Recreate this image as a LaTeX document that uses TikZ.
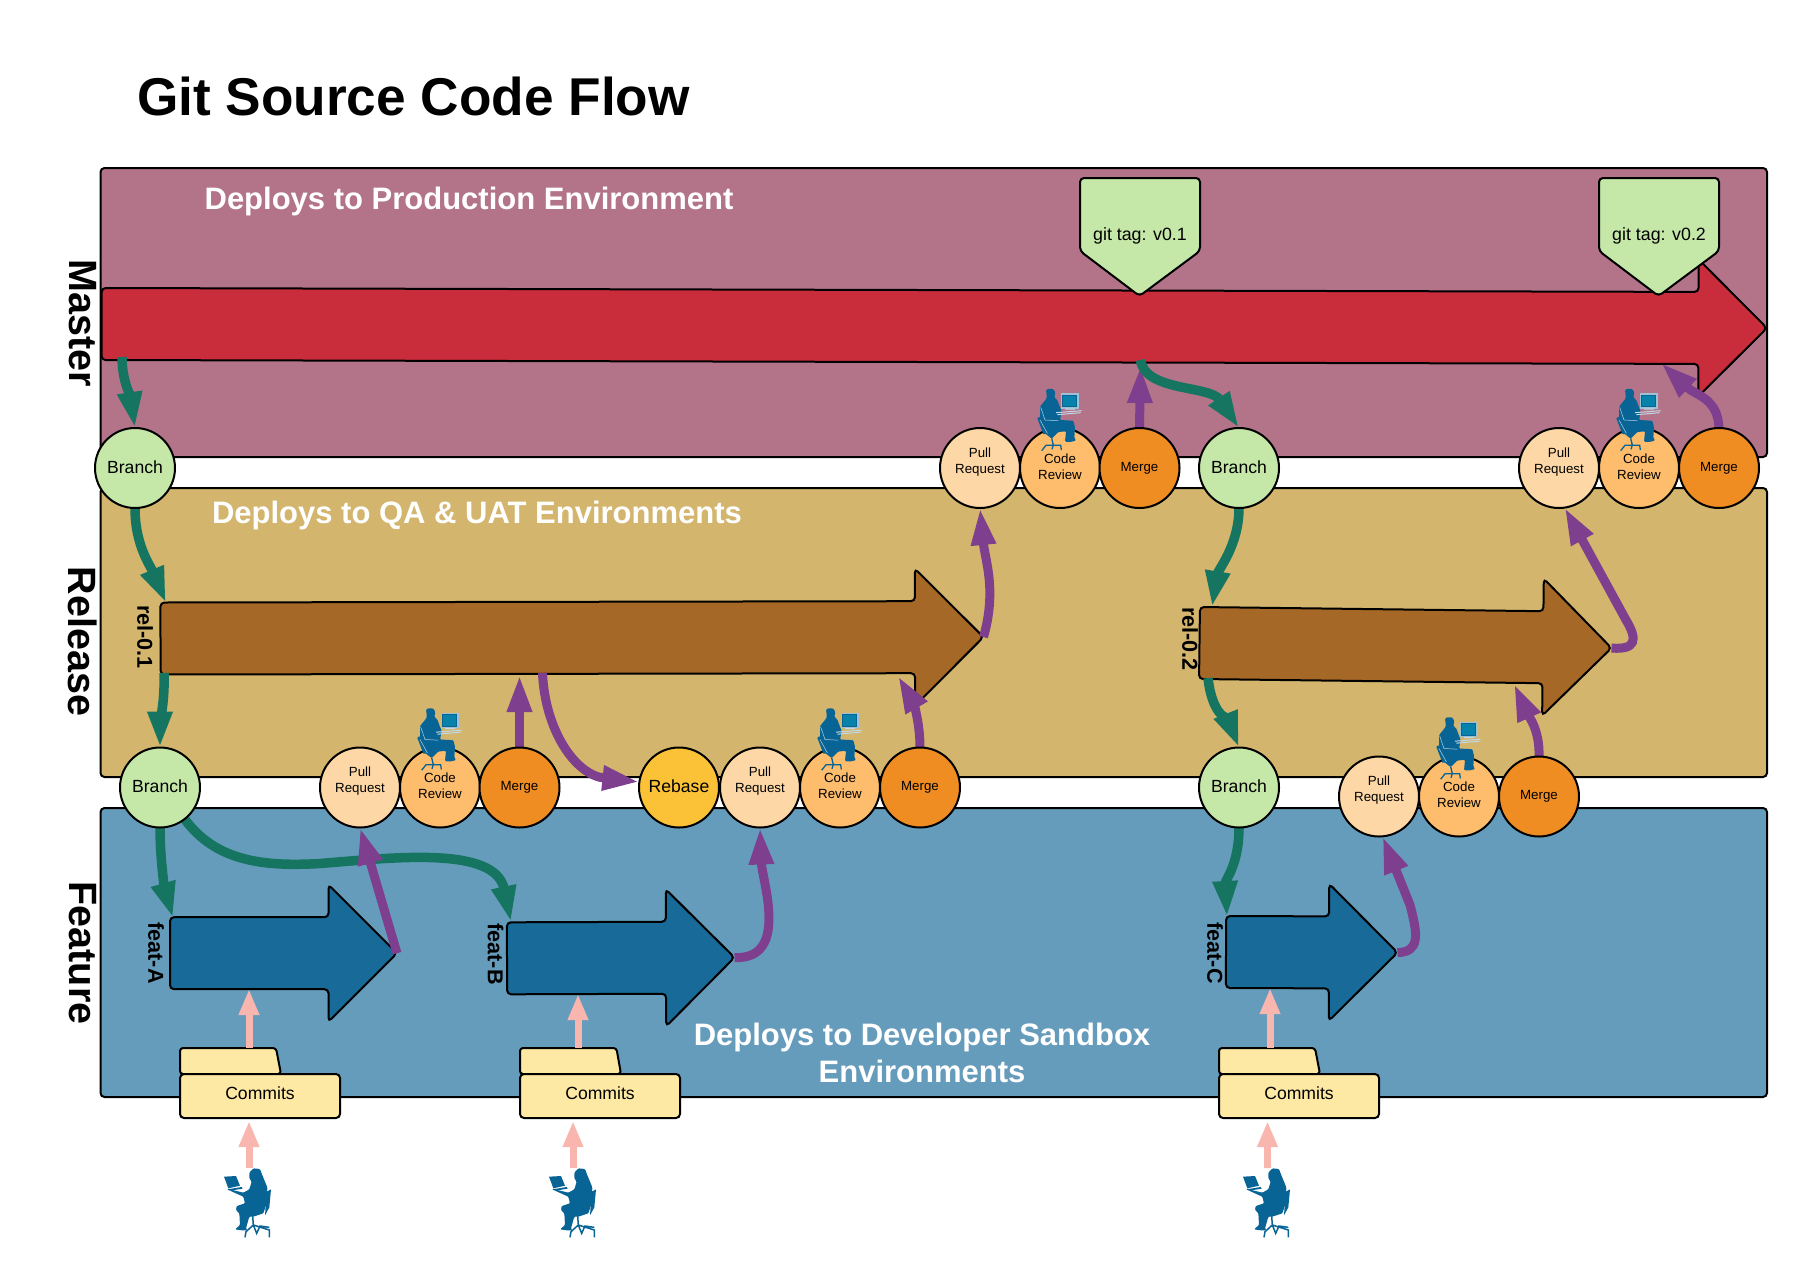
\documentclass[tikz,border=0pt]{standalone}
\usepackage{fontspec}
\setmainfont{Liberation Sans}
\usetikzlibrary{arrows.meta,shapes.arrows}
\definecolor{mastc}{HTML}{B3748A}
\definecolor{relbc}{HTML}{D3B56D}
\definecolor{feabc}{HTML}{669CBB}
\definecolor{redc}{HTML}{C92C3A}
\definecolor{brownc}{HTML}{A56826}
\definecolor{bluec}{HTML}{186A98}
\definecolor{branchc}{HTML}{C5E8A9}
\definecolor{prc}{HTML}{FDD8A6}
\definecolor{crc}{HTML}{FDBD6C}
\definecolor{mergec}{HTML}{EF8C22}
\definecolor{rebasec}{HTML}{FBC238}
\definecolor{folderc}{HTML}{FDE8A4}
\definecolor{purplec}{HTML}{7E3F8E}
\definecolor{greenc}{HTML}{167560}
\definecolor{pinkc}{HTML}{F8B6AE}
\definecolor{personc}{HTML}{096496}
\pgfdeclarelayer{front}
\pgfsetlayers{main,front}
\newcommand{\twolines}[2]{\begin{tabular}{@{}c@{}}#1\\#2\end{tabular}}
\newcommand{\raisedlines}[2]{\raisebox{2.4pt}[0pt][0pt]{\twolines{#1}{#2}}}
\tikzset{
  band/.style={draw=black,line width=2pt,rounded corners=4pt,inner sep=0pt,outer sep=0pt,anchor=north west,minimum width=1666.5pt},
  flow/.style={single arrow,single arrow head extend=32.5pt,single arrow tip angle=90,single arrow head indent=0pt,
    inner xsep=0pt,inner ysep=35pt,outer sep=0pt,anchor=tail,draw=black,line width=2pt,rounded corners=4pt},
  stage/.style={circle,draw=black,line width=2pt,minimum size=80pt,inner sep=0pt,outer sep=0pt,
    font=\fontsize{13.3}{16}\selectfont},
  bigstage/.style={stage,font=\fontsize{17.6}{20}\selectfont,text height=10.3pt,text depth=0pt},
  branchst/.style={bigstage,fill=branchc},
  prst/.style={stage,fill=prc},
  crst/.style={stage,fill=crc},
  mergest/.style={stage,fill=mergec},
  rebasest/.style={bigstage,fill=rebasec},
  tagst/.style={draw=black,line width=2pt,fill=branchc,rounded corners=4pt},
  tagtext/.style={font=\fontsize{17.8}{20}\selectfont,inner sep=0pt},
  foldbody/.style={draw=black,line width=2pt,fill=folderc,rounded corners=4pt,minimum width=160pt,minimum height=44pt,
    inner sep=0pt,outer sep=0pt,font=\fontsize{17.6}{20}\selectfont,text height=12.7pt,text depth=6pt},
  foldtab/.style={draw=black,line width=2pt,fill=folderc,rounded corners=3pt},
  lane/.style={font=\bfseries\fontsize{39.5}{44}\selectfont,rotate=-90,inner sep=0pt},
  vlabel/.style={font=\bfseries\fontsize{21.6}{24}\selectfont,rotate=-90,inner sep=0pt},
  deploy/.style={font=\bfseries\fontsize{31}{37}\selectfont,text=white,inner sep=0pt,anchor=base},
  gitflow/.style={draw=greenc,line width=9.5pt,-{Triangle[length=36pt,width=23pt]}},
  prflow/.style={draw=purplec,line width=9pt,-{Triangle[length=37pt,width=23pt]}},
  commitflow/.style={draw=pinkc,line width=7pt,-{Triangle[length=26pt,width=19pt]}},
  reviewer/.pic={
    \begin{scope}[x=.3333pt,y=-.3333pt,shift={(-120,-294)}]
      \fill[personc,rounded corners=1pt] (78,60)--(85,56)--(100,57)--(106,68)--(103,82)--(112,90)--(125,125)--(120,150)
        --(160,152)--(165,172)--(163,203)--(168,212)--(150,216)--(135,215)--(138,184)--(115,186)--(95,206)--(75,190)--(60,150)--(60,110)--(80,85)--(80,75)--cycle;
      \fill[personc] (52,145)--(58,140)--(78,192)--(70,192)--cycle;
      \draw[personc,line width=1.3pt] (95,205)--(100,225) (65,242)--(78,226)--(122,226)--(124,240) (100,225)--(96,238);
      \draw[white!70!personc,line width=.5pt] (62,112)--(75,150)--(115,152) (60,150)--(82,190);
      \draw[white!60!personc,fill=personc!80!cyan,line width=1.4pt] (124,72) rectangle (174,114);
      \draw[personc,line width=.8pt] (128,76) rectangle (170,110);
      \draw[white!75!personc,line width=1pt] (108,128)--(185,122) (112,134)--(182,128) (135,117)--(165,117);
    \end{scope}
  },
  typist/.pic={
    \begin{scope}[x=.3333pt,y=-.3333pt,shift={(-120,-60)}]
      \fill[personc,rounded corners=1pt] (118,68)--(130,55)--(150,57)--(158,78)--(172,112)--(170,160)--(160,190)--(130,200)
        --(118,200)--(108,235)--(112,241)--(95,241)--(75,238)--(90,225)--(88,190)--(78,180)--(80,168)--(105,160)--(100,140)
        --(60,122)--(60,118)--(100,128)--(118,118)--(125,95)--(118,85)--cycle;
      \fill[personc] (42,80)--(78,78)--(90,107)--(55,115)--cycle (52,118)--(95,111)--(98,116)--(60,122)--cycle;
      \fill[personc] (170,125)--(183,118)--(178,172)--(165,196)--cycle;
      \draw[personc,line width=1.5pt] (128,198)--(130,225) (105,262)--(108,245)--(130,225)--(178,240)--(178,262) (130,225)--(140,250)--(150,228)--(178,232);
    \end{scope}
  }
}
\begin{document}
\begin{tikzpicture}[x=1pt,y=-1pt]
\useasboundingbox (0,0) rectangle (1810,1278);

% title and swim lanes
\node[font=\bfseries\fontsize{53.2}{60}\selectfont,inner sep=0pt,anchor=base] (title) at (413.5,115) {Git Source Code Flow};
\node[band,fill=mastc,minimum height=289pt] (master) at (100.5,168) {};
\node[band,fill=relbc,minimum height=289pt] (release) at (100.5,488) {};
\node[band,fill=feabc,minimum height=289pt] (feature) at (100.5,808) {};
\node[lane] (lmaster) at (82.5,323) {Master};
\node[lane] (lrelease) at (82.5,641.5) {Release};
\node[lane] (lfeature) at (82.5,953) {Feature};
\node[deploy] (dprod) at (469,209) {Deploys to Production Environment};
\node[deploy] (dqa) at (477,523) {Deploys to QA \& UAT Environments};
\node[deploy,align=center] (ddev) at (922,1082) {Deploys to Developer Sandbox\\Environments};

% branches
\node[flow,fill=redc,minimum height=1665.4pt,rotate=-0.14] (red) at (101.6,324) {};
\node[flow,fill=brownc,minimum height=823pt,rotate=0.1] (relA) at (160.5,638.5) {};
\node[flow,fill=brownc,minimum height=412pt,rotate=-0.7] (relB) at (1199.5,643) {};
\node[flow,fill=bluec,minimum height=227pt] (featA) at (170,953.2) {};
\node[flow,fill=bluec,minimum height=227.5pt,rotate=0.2] (featB) at (507,958.3) {};
\node[flow,fill=bluec,minimum height=171.5pt,rotate=-0.2] (featC) at (1226,952) {};
\node[vlabel] (lrelA) at (145,637) {rel-0.1};
\node[vlabel] (lrelB) at (1190,639) {rel-0.2};
\node[vlabel] (lfeatA) at (156,953) {feat-A};
\node[vlabel] (lfeatB) at (495.5,954) {feat-B};
\node[vlabel] (lfeatC) at (1215,953) {feat-C};

% git tags
\draw[tagst] (1080,178)--(1200,178)--(1200,251)--(1139.5,296)--(1080,251)--cycle;
\node[tagtext] (tagA) at (1140,236) {git tag: v0.1};
\draw[tagst] (1599,178)--(1719,178)--(1719,251)--(1658.5,296)--(1599,251)--cycle;
\node[tagtext] (tagB) at (1659,236) {git tag: v0.2};

% commit folders
\draw[foldtab] (180,1074)--(180,1048)--(276,1048)--(281,1074)--cycle;
\node[foldbody] (commitsA) at (260,1096) {Commits};
\draw[foldtab] (520,1074)--(520,1048)--(616.4,1048)--(621,1074)--cycle;
\node[foldbody] (commitsB) at (600,1096) {Commits};
\draw[foldtab] (1219,1074)--(1219,1048)--(1315,1048)--(1320,1074)--cycle;
\node[foldbody] (commitsC) at (1299,1096) {Commits};

% stage circles
\begin{pgfonlayer}{front}
\node[branchst] (b1) at (135,468) {Branch};
\node[prst] (pr1) at (980,468) {\raisedlines{Pull}{Request}};
\node[crst] (cr1) at (1060,468) {\twolines{Code}{Review}};
\node[mergest] (m1) at (1139.5,468) {Merge};
\node[branchst] (b3) at (1239,468) {Branch};
\node[prst] (pr2) at (1559,468) {\raisedlines{Pull}{Request}};
\node[crst] (cr2) at (1639,468) {\twolines{Code}{Review}};
\node[mergest] (m2) at (1719,468) {Merge};
\node[branchst] (b2) at (160,787.5) {Branch};
\node[prst] (pr3) at (360,787.5) {\raisedlines{Pull}{Request}};
\node[crst] (cr3) at (440,787.5) {\twolines{Code}{Review}};
\node[mergest] (m3) at (519.5,787.5) {Merge};
\node[rebasest] (rb) at (679,787.5) {Rebase};
\node[prst] (pr4) at (760,787.5) {\raisedlines{Pull}{Request}};
\node[crst] (cr4) at (840,787.5) {\twolines{Code}{Review}};
\node[mergest] (m4) at (920,787.5) {Merge};
\node[branchst] (b4) at (1239,787.5) {Branch};
\node[prst] (pr5) at (1379,796.5) {\raisedlines{Pull}{Request}};
\node[crst] (cr5) at (1459,796.5) {\twolines{Code}{Review}};
\node[mergest] (m5) at (1539,796.5) {Merge};
\pic at (cr1.center) {reviewer};
\pic at (cr2.center) {reviewer};
\pic at (cr3.center) {reviewer};
\pic at (cr4.center) {reviewer};
\pic at (cr5.center) {reviewer};
\pic at (250,1170) {typist};
\pic at (575,1170) {typist};
\pic at (1269,1170) {typist};
\end{pgfonlayer}

% connector end points on the long arrows
\coordinate (redOutA) at (122,357);
\coordinate (redOutB) at (1140.5,360);
\coordinate (redInA) at (1140.5,366);
\coordinate (redInB) at (1661,363);
\coordinate (relAin) at (166,603);
\coordinate (relAout) at (164,673);
\coordinate (relAmerge) at (519.5,675);
\coordinate (relArebase) at (542.5,673);
\coordinate (relAhead) at (898,676);
\coordinate (relBin) at (1212,607);
\coordinate (relBout) at (1208,678);
\coordinate (relBhead) at (1514,684);
\coordinate (featAin) at (173,918);
\coordinate (featBin) at (511,922);
\coordinate (featCin) at (1227,917);
\coordinate (featAcommit) at (249,989);
\coordinate (featBcommit) at (578,994);
\coordinate (featCcommit) at (1270,988);
\coordinate (tabA) at (249,1048);
\coordinate (tabB) at (578,1048);
\coordinate (tabC) at (1270,1048);
\coordinate (devA) at (249,1168);
\coordinate (devB) at (573,1168);
\coordinate (devC) at (1267.5,1168);
\coordinate (foldA) at (249,1121);
\coordinate (foldB) at (573,1121);
\coordinate (foldC) at (1267.5,1121);

% commit arrows
\draw[commitflow] (tabA)--(featAcommit);
\draw[commitflow] (tabB)--(featBcommit);
\draw[commitflow] (tabC)--(featCcommit);
\draw[commitflow] (devA)--(foldA);
\draw[commitflow] (devB)--(foldB);
\draw[commitflow] (devC)--(foldC);

% merge into master lies under the branch arrow
\draw[prflow] (m1.north)--(redInA);

% branch arrows
\draw[gitflow] (redOutA) .. controls (122,380) and (130,395) .. (b1.north);
\draw[gitflow] (b1.south) .. controls (135,545) and (150,565) .. (relAin);
\draw[gitflow] (relAout) .. controls (165,700) and (160,725) .. (b2.north);
\draw[gitflow] (b2.south) .. controls (160,860) and (165,890) .. (featAin);
\draw[gitflow] (b2.-52) .. controls (215,860) and (260,867) .. (320,863.5) .. controls (390,858) and (495,845) .. (featBin);
\draw[gitflow] (redOutB) .. controls (1145,392) and (1210,385) .. (b3.north);
\draw[gitflow] (b3.south) .. controls (1239,545) and (1218,570) .. (relBin);
\draw[gitflow] (relBout) .. controls (1212,715) and (1228,720) .. (b4.north);
\draw[gitflow] (b4.south) .. controls (1239,865) and (1225,880) .. (featCin);

% pull request and merge arrows
\draw[prflow] (featA.tip)--(pr3.south);
\draw[prflow] (featB.tip) .. controls (790,960) and (762,880) .. (pr4.south);
\draw[prflow] (featC.tip) .. controls (1420,952) and (1418,935) .. (1410,905)--(pr5.-85);
\draw[prflow] (m3.north)--(relAmerge);
\draw[prflow] (relArebase) .. controls (545,730) and (575,775) .. (rb.172);
\draw[prflow] (m4.north) .. controls (920,720) and (912,700) .. (relAhead);
\draw[prflow] (relA.tip) .. controls (997,590) and (985,560) .. (pr1.south);
\draw[prflow] (relB.tip) .. controls (1636,650) and (1638,640) .. (1626,620)--(pr2.-82);
\draw[prflow] (m5.north) .. controls (1540,730) and (1528,715) .. (relBhead);
\draw[prflow] (m2.north) .. controls (1718,398) and (1695,395) .. (redInB);
\end{tikzpicture}
\end{document}
